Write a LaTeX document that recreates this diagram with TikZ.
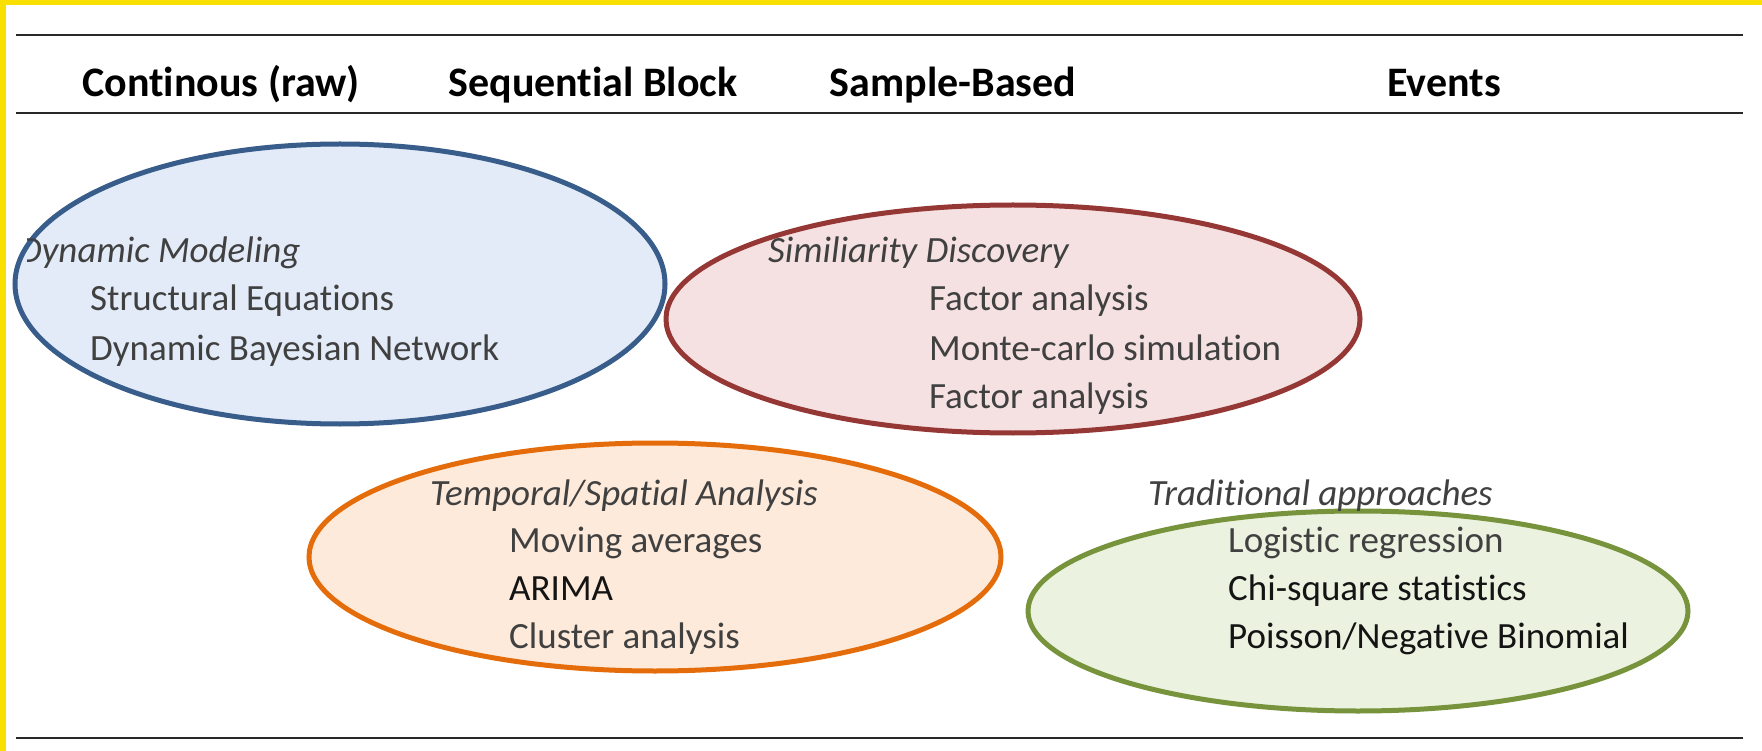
\documentclass[tikz,border=0pt]{standalone}
\usepackage{fontspec}
\setmainfont[Ligatures=NoCommon]{Carlito}
\usetikzlibrary{shapes.geometric}
\definecolor{ybord}{RGB}{250,224,0}
\definecolor{rulec}{RGB}{40,40,40}
\definecolor{bluefill}{RGB}{226,235,247}
\definecolor{bluedraw}{RGB}{56,93,138}
\definecolor{redfill}{RGB}{245,225,225}
\definecolor{reddraw}{RGB}{149,55,53}
\definecolor{orfill}{RGB}{253,234,219}
\definecolor{ordraw}{RGB}{228,108,10}
\definecolor{grfill}{RGB}{236,242,224}
\definecolor{grdraw}{RGB}{119,147,60}
\definecolor{txtgray}{RGB}{64,64,64}
\definecolor{txtdark}{RGB}{20,20,20}
\tikzset{
  blob/.style={ellipse, line width=5pt, inner sep=0pt},
  header/.style={anchor=base, font=\fontsize{42}{50}\selectfont\bfseries, text=black, inner sep=0pt},
  ttl/.style={anchor=base west, font=\fontsize{37}{44}\selectfont\itshape, text=txtgray, inner sep=0pt},
  item/.style={anchor=base west, font=\fontsize{37}{44}\selectfont, text=txtgray, inner sep=0pt},
  itemdark/.style={item, text=txtdark},
  hrule/.style={line width=2pt, draw=rulec}
}
\begin{document}
\begin{tikzpicture}[x=1pt,y=-1pt]
\useasboundingbox (0,0) rectangle (1762,751);
\fill[white] (0,0) rectangle (1762,751);
% rules
\coordinate (t1) at (16,35); \coordinate (t2) at (1743,35);
\coordinate (h1) at (16,113); \coordinate (h2) at (1743,113);
\coordinate (b1) at (16,738); \coordinate (b2) at (1743,738);
\draw[hrule] (t1) -- (t2);
\draw[hrule] (h1) -- (h2);
\draw[hrule] (b1) -- (b2);
% headers
\node[header] (hc) at (221,97) {Continous (raw)};
\node[header] (hs) at (593,97) {Sequential Block};
\node[header] (hb) at (953,97) {Sample-Based};
\node[header] (he) at (1444,97) {Events};
% ellipses
\node[blob, draw=bluedraw, fill=bluefill, minimum width=650pt, minimum height=280pt] (dyn) at (340,284) {};
\node[blob, draw=reddraw, fill=redfill, minimum width=694pt, minimum height=228pt] (sim) at (1013,319) {};
\node[blob, draw=ordraw, fill=orfill, minimum width=692pt, minimum height=228pt] (tmp) at (655,557) {};
\node[blob, draw=grdraw, fill=grfill, minimum width=660pt, minimum height=200pt] (tra) at (1358,611) {};
% Dynamic modeling
\begin{scope}
\clip (27,200) rectangle (600,300);
\node[ttl] (dynt) at (19,263) {Dynamic Modeling};
\end{scope}
\node[item] (dyn1) at (90,311) {Structural Equations};
\node[item] (dyn2) at (90,360) {Dynamic Bayesian Network};
% Similarity
\node[ttl] (simt) at (768,263) {Similiarity Discovery};
\node[item] (sim1) at (929,311) {Factor analysis};
\node[item] (sim2) at (929,360) {Monte-carlo simulation};
\node[item] (sim3) at (929,408) {Factor analysis};
% Temporal
\node[ttl] (tmpt) at (430,505) {Temporal/Spatial Analysis};
\node[item] (tmp1) at (509,552) {Moving averages};
\node[itemdark] (tmp2) at (509,600) {ARIMA};
\node[item] (tmp3) at (509,648) {Cluster analysis};
% Traditional
\node[ttl] (trat) at (1148,505) {Traditional approaches};
\node[item] (tra1) at (1228,552) {Logistic regression};
\node[itemdark] (tra2) at (1228,600) {Chi-square statistics};
\node[itemdark] (tra3) at (1228,648) {Poisson/Negative Binomial};
% yellow border
\fill[ybord] (0,0) rectangle (1762,5);
\fill[ybord] (0,0) rectangle (6,751);
\end{tikzpicture}
\end{document}
